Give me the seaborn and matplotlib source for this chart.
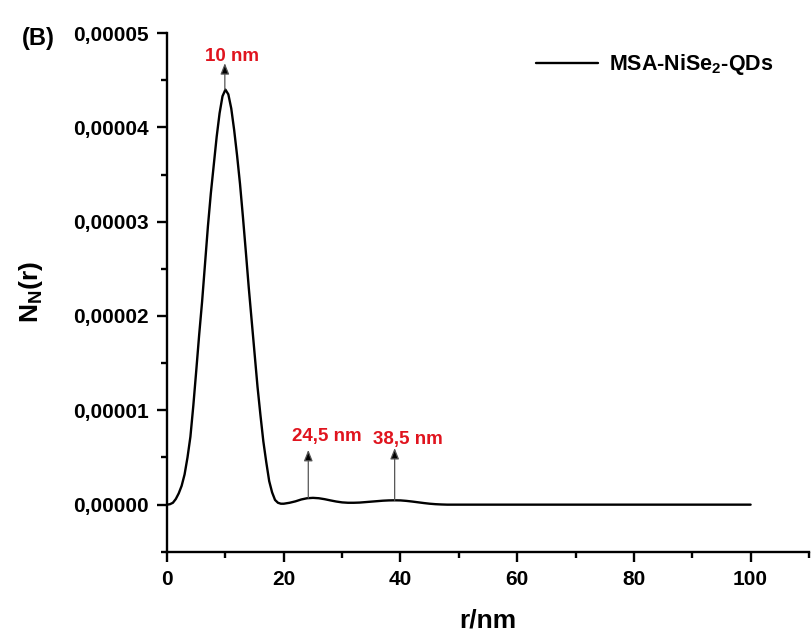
import matplotlib
matplotlib.use("Agg")
import matplotlib.pyplot as plt
from matplotlib.ticker import MultipleLocator, FuncFormatter
import seaborn as sns
import pandas as pd

# distribution (N in units of 1e-5)
r_nm = [0, 0.5, 1, 1.5, 2, 2.5, 3, 3.5, 4, 4.5, 5, 5.5, 6, 6.5, 7, 7.5, 8, 8.5, 9, 9.5,
        10, 10.5, 11, 11.5, 12, 12.5, 13, 13.5, 14, 14.5, 15, 15.5, 16, 16.5, 17, 17.5,
        18, 18.5, 19, 19.5, 20, 21, 22, 23, 24, 25, 26, 27, 28, 29, 30, 31, 32, 33, 34,
        35, 36, 37, 38, 39, 40, 41, 42, 43, 44, 45, 46, 47, 48, 50, 60, 80, 100]
n_e5 = [0.0, 0.005, 0.02, 0.06, 0.12, 0.2, 0.32, 0.5, 0.72, 1.05, 1.42, 1.8, 2.15, 2.55,
        2.95, 3.3, 3.6, 3.9, 4.15, 4.33, 4.4, 4.35, 4.2, 3.97, 3.7, 3.4, 3.05, 2.68, 2.3,
        1.95, 1.6, 1.25, 0.95, 0.67, 0.45, 0.25, 0.13, 0.05, 0.02, 0.01, 0.01, 0.02, 0.035,
        0.055, 0.068, 0.072, 0.068, 0.058, 0.045, 0.033, 0.024, 0.02, 0.02, 0.022, 0.027,
        0.032, 0.037, 0.042, 0.045, 0.046, 0.045, 0.04, 0.033, 0.025, 0.017, 0.01, 0.005,
        0.002, 0.0, 0.0, 0.0, 0.0, 0.0]

# peak markers
arrow_r = [9.9, 24.2, 39.0]
arrow_base = [4.4, 0.07, 0.045]
arrow_tip = [4.68, 0.58, 0.60]
peak_labels = ["10 nm", "24,5 nm", "38,5 nm"]
label_r = [11.2, 27.4, 41.3]
label_y = [4.75, 0.72, 0.69]

series_name = r"MSA-NiSe$_\mathregular{2}$-QDs"

df = pd.DataFrame({"r": r_nm, "N": [v * 1e-5 for v in n_e5]})

sns.set_theme(style="ticks")
plt.rcParams["font.family"] = ["Liberation Sans", "DejaVu Sans"]
plt.rcParams["font.weight"] = "bold"
plt.rcParams["mathtext.default"] = "regular"
plt.rcParams["text.color"] = "black"
plt.rcParams["axes.labelcolor"] = "black"
plt.rcParams["xtick.color"] = "black"
plt.rcParams["ytick.color"] = "black"

fig = plt.figure(figsize=(8.11, 6.35), dpi=100)
ax = fig.add_axes([0.206, 0.131, 0.7915, 0.817])

sns.lineplot(data=df, x="r", y="N", color="black", linewidth=1.7,
             label=series_name, ax=ax)

for xr, yb, yt, txt, lx, ly in zip(arrow_r, arrow_base, arrow_tip, peak_labels, label_r, label_y):
    ax.annotate("", xy=(xr, yt * 1e-5), xytext=(xr, yb * 1e-5),
                arrowprops=dict(arrowstyle="-|>,head_length=0.55,head_width=0.22",
                                fc="black", ec="#555555", lw=0.9, shrinkA=0, shrinkB=0))
    ax.text(lx, ly * 1e-5, txt, color="#e0141e", fontsize=13.5, fontweight="bold",
            ha="center", va="center")

ax.set_xlim(0, 110)
ax.set_ylim(-0.5e-5, 5e-5)
ax.xaxis.set_major_locator(MultipleLocator(20))
ax.xaxis.set_minor_locator(MultipleLocator(10))
ax.yaxis.set_major_locator(MultipleLocator(1e-5))
ax.yaxis.set_minor_locator(MultipleLocator(0.5e-5))
ax.yaxis.set_major_formatter(FuncFormatter(lambda v, p: f"{v:.5f}".replace(".", ",").replace("-0,00000", "0,00000")))
ax.xaxis.set_major_formatter(FuncFormatter(lambda v, p: f"{v:.0f}"))

ax.tick_params(which="major", direction="out", length=7, width=1.7, labelsize=15, pad=6)
ax.tick_params(which="minor", direction="out", length=4, width=1.7)
for lab in ax.get_xticklabels() + ax.get_yticklabels():
    lab.set_fontweight("bold")

sns.despine(ax=ax)
for s in ["left", "bottom"]:
    ax.spines[s].set_linewidth(1.7)
    ax.spines[s].set_color("black")

ax.set_xlabel("r/nm", fontsize=19, fontweight="bold", labelpad=14)
ax.set_ylabel(r"N$_\mathregular{N}$(r)", fontsize=19, fontweight="bold", labelpad=20)

leg = ax.legend(loc="upper right", frameon=False, prop={"size": 15.5, "weight": "bold"},
                handlelength=2.9, handletextpad=0.5, borderaxespad=0.5,
                bbox_to_anchor=(0.975, 1.0))

fig.text(0.027, 0.94, "(B)", fontsize=17, fontweight="bold", ha="left", va="center")

fig.savefig("out.png", dpi=100)
